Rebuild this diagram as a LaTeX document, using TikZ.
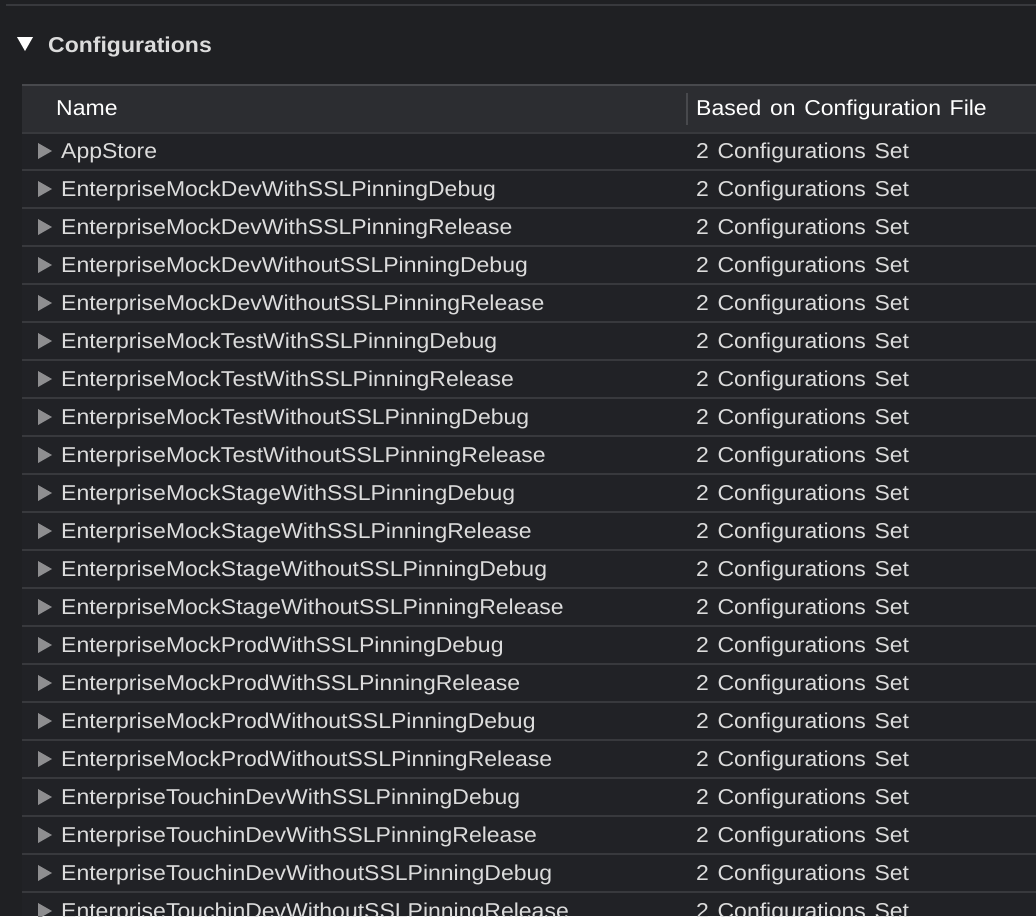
\documentclass[tikz,border=0pt]{standalone}
\usepackage{fontspec}
\setmainfont[FakeStretch=1.07,WordSpace=1.35]{Liberation Sans}
\usetikzlibrary{positioning}

\definecolor{panelbg}{HTML}{1F2023}
\definecolor{tablebg}{HTML}{212226}
\definecolor{headerbg}{HTML}{2C2D31}
\definecolor{gridline}{HTML}{38393D}
\definecolor{headline}{HTML}{48494D}
\definecolor{rowtext}{HTML}{DCDCDC}
\definecolor{arrowgrey}{HTML}{8E8E90}

\begin{document}
\begin{tikzpicture}[x=1pt,y=-1pt,
    rowname/.style={anchor=base west, inner sep=0pt, text=rowtext,
      font=\fontsize{21.5}{24}\selectfont},
    headname/.style={anchor=base west, inner sep=0pt, text=white,
      font=\fontsize{21.5}{24}\selectfont},
    sectionname/.style={anchor=base west, inner sep=0pt, text=rowtext,
      font=\fontsize{21.5}{24}\selectfont\bfseries}]
      \def\rowpitch{38}
      \def\firstbase{158}
      \def\firstline{170}
      \def\colsplit{687}
      \def\tableleft{22}

      \useasboundingbox (0,0) rectangle (1036,916);
      \clip (0,0) rectangle (1036,916);
      \fill[panelbg] (0,0) rectangle (1036,916);
      \fill[tablebg] (\tableleft,133) rectangle (1036,916);
      \draw[gridline, line width=1.5pt] (6,5) -- (1036,5);

      % section title
      \fill[white] (17,37) -- (33,37) -- (25,51) -- cycle;
      \node[sectionname] (section) at (48,52) {Configurations};

      % header band
      \fill[headerbg] (\tableleft,85) rectangle (1036,133);
      \draw[headline, line width=1.5pt] (\tableleft,85) -- (1036,85);
      \draw[gridline, line width=1.5pt] (\tableleft,133) -- (1036,133);
      \draw[headline, line width=2pt] (\colsplit,93) -- (\colsplit,125);
      \node[headname] (namehead) at (56,115) {Name};
      \node[headname] (filehead) at (696,115) {Based on Configuration File};

      % rows
      \foreach \k in {0,...,19} {
        \draw[gridline, line width=1.5pt] (\tableleft,\firstline+\k*\rowpitch) -- (1036,\firstline+\k*\rowpitch);
      }
      \foreach \name [count=\i from 0] in {AppStore,
          EnterpriseMockDevWithSSLPinningDebug,
          EnterpriseMockDevWithSSLPinningRelease,
          EnterpriseMockDevWithoutSSLPinningDebug,
          EnterpriseMockDevWithoutSSLPinningRelease,
          EnterpriseMockTestWithSSLPinningDebug,
          EnterpriseMockTestWithSSLPinningRelease,
          EnterpriseMockTestWithoutSSLPinningDebug,
          EnterpriseMockTestWithoutSSLPinningRelease,
          EnterpriseMockStageWithSSLPinningDebug,
          EnterpriseMockStageWithSSLPinningRelease,
          EnterpriseMockStageWithoutSSLPinningDebug,
          EnterpriseMockStageWithoutSSLPinningRelease,
          EnterpriseMockProdWithSSLPinningDebug,
          EnterpriseMockProdWithSSLPinningRelease,
          EnterpriseMockProdWithoutSSLPinningDebug,
          EnterpriseMockProdWithoutSSLPinningRelease,
          EnterpriseTouchinDevWithSSLPinningDebug,
          EnterpriseTouchinDevWithSSLPinningRelease,
          EnterpriseTouchinDevWithoutSSLPinningDebug,
          EnterpriseTouchinDevWithoutSSLPinningRelease} {
        \pgfmathsetmacro\yb{\firstbase+\i*\rowpitch}
        \fill[arrowgrey] (38,\yb-15) -- (52,\yb-7) -- (38,\yb+1) -- cycle;
        \node[rowname] (name\i) at (61,\yb) {\name};
        \node[rowname] (file\i) at (696,\yb) {2 Configurations Set};
      }
    \end{tikzpicture}
\end{document}
